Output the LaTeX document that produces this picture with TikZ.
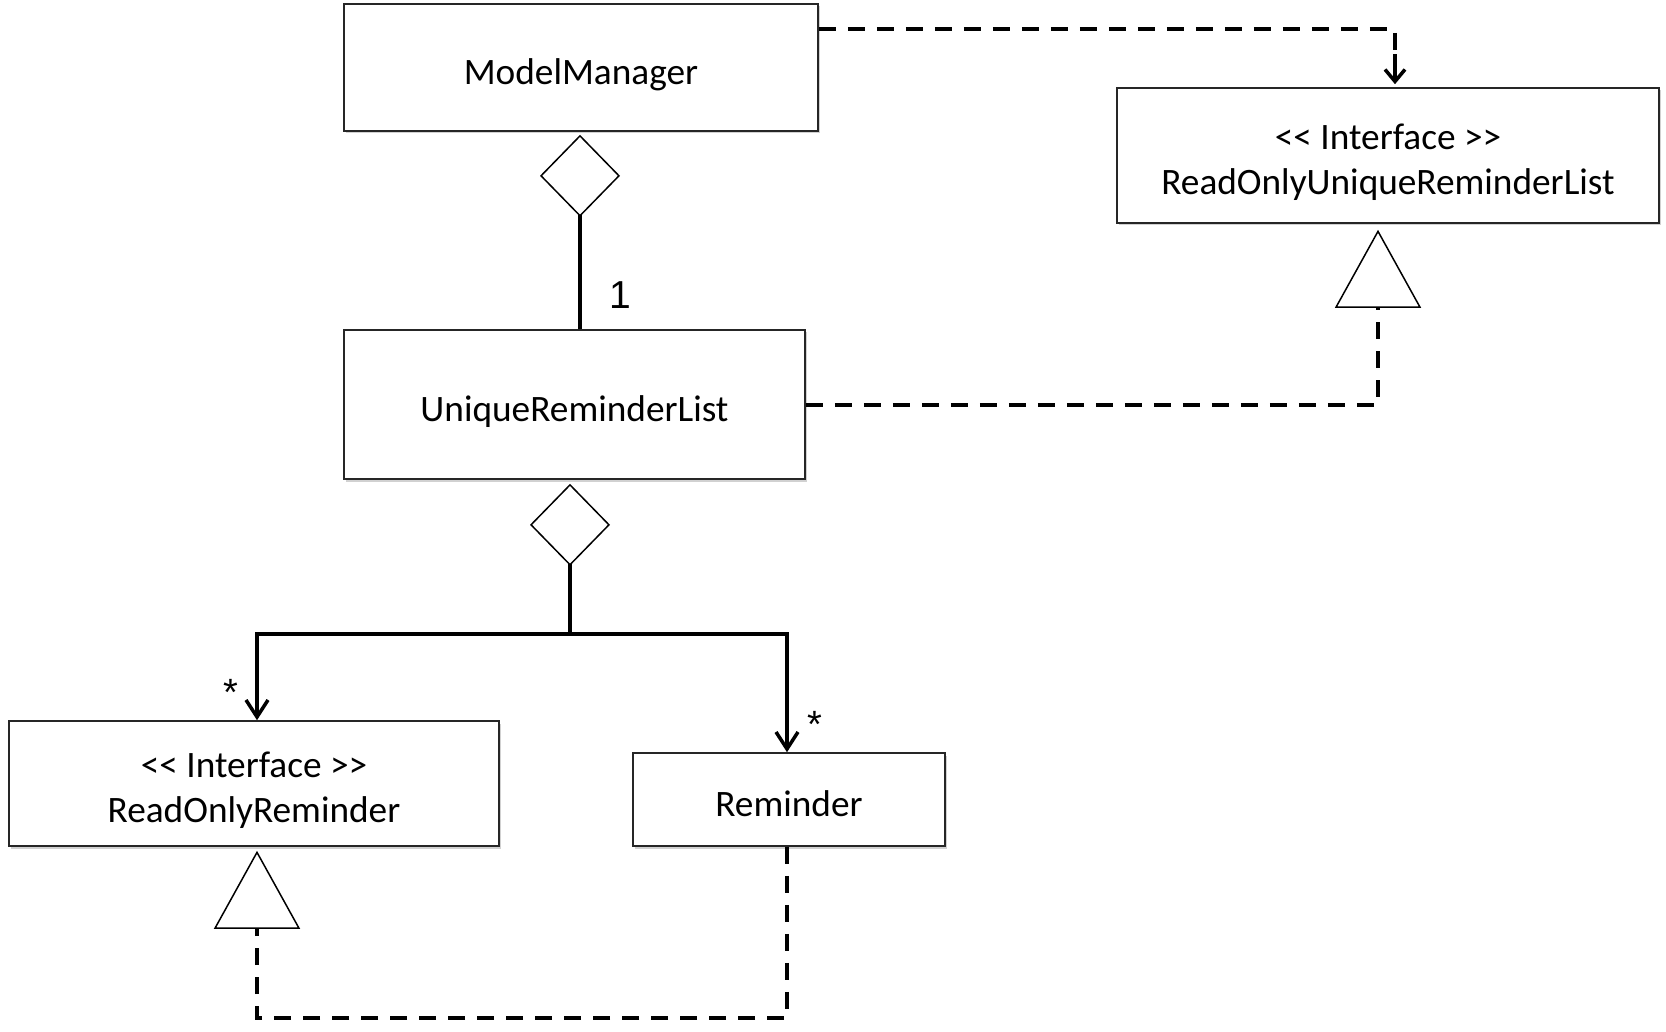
\documentclass[tikz,border=0pt]{standalone}
\usepackage{fontspec}
\setmainfont{Carlito}[Ligatures=TeXOff]
\newfontfamily\arialfont{Liberation Sans}
\usetikzlibrary{arrows.meta,shadows,calc}
\begin{document}
\begin{tikzpicture}[x=1pt,y=-1pt,
  umlbox/.style={draw=black!85, line width=1.6pt, fill=white, rectangle, inner sep=0pt,
    align=center, font=\fontsize{37.3}{44.6}\selectfont,
    text height=33.5pt, text depth=0pt,
    drop shadow={shadow xshift=1.5pt, shadow yshift=-2.5pt, fill=black!30, opacity=0.6}},
  twoline/.style={text height=77.5pt, text depth=0pt},
  solidline/.style={line width=4pt, line cap=butt, line join=miter},
  depline/.style={line width=4pt, dash pattern=on 17pt off 12pt},
  smallbarb/.style={-{Straight Barb[length=12pt,width=20pt,line width=3.5pt]}},
  hollowdiamond/.style={{Diamond[open,length=82pt,width=80pt,line width=1.5pt,fill=white]}-},
  hollowtri/.style={-{Triangle[open,length=78pt,width=86pt,line width=1.5pt,fill=white]}},
  mult/.style={font=\arialfont\fontsize{38}{38}\selectfont, inner sep=0pt},
]
\useasboundingbox (0,0) rectangle (1666,1032);

\node[umlbox, minimum width=474pt, minimum height=127pt] (mm) at (581,67.5) {ModelManager};
\node[umlbox, twoline, minimum width=542pt, minimum height=135pt] (rourl) at (1388,155.5) {<< Interface >>\\ReadOnlyUniqueReminderList};
\node[umlbox, minimum width=461pt, minimum height=149pt] (url) at (574.5,404.5) {UniqueReminderList};
\node[umlbox, twoline, minimum width=490pt, minimum height=125pt] (ror) at (254,783.5) {<< Interface >>\\ReadOnlyReminder};
\node[umlbox, minimum width=312pt, minimum height=93pt] (rem) at (789,799.5) {Reminder};

% ModelManager aggregates UniqueReminderList
\draw[solidline, hollowdiamond, shorten <=3pt] ($(mm.south)+(-1,0)$) -- ($(url.north)+(5.5,0)$);
\node[font=\arialfont\fontsize{39}{39}\selectfont, inner sep=0pt] (one) at (620,295) {1};

% ModelManager depends on ReadOnlyUniqueReminderList
\coordinate (mmdep) at ($(mm.north east)+(0,26)$);
\coordinate (rtop) at ($(rourl.north)+(7,-3)$);
\draw[depline] (mmdep) -| ($(rtop)+(0,-14)$);
\draw[line width=3.5pt, smallbarb] ($(rtop)+(0,-30)$) -- (rtop);

% UniqueReminderList realizes ReadOnlyUniqueReminderList
\draw[depline, hollowtri, shorten >=6pt] (url.east) -| ($(rourl.south)+(-10,0)$);

% UniqueReminderList aggregates the reminders
\coordinate (j) at (570,634);
\coordinate (jl) at (257,634);
\coordinate (jr) at (787,634);
\draw[solidline, hollowdiamond, shorten <=4pt] (url.south -| j) -- (j);
\draw[solidline, {Straight Barb[length=17pt,width=22pt,line width=3.5pt]}-{Straight Barb[length=17pt,width=22pt,line width=3.5pt]}]
  (ror.north -| jl) -- (jl) -- (jr) -- (rem.north -| jr);
\node[mult] (s1) at (231,692) {*};
\node[mult] (s2) at (815,724) {*};

% Reminder realizes ReadOnlyReminder
\coordinate (bot) at (787,1018);
\draw[depline, hollowtri, shorten >=4pt] (rem.south -| jr) -- (bot) -| (ror.south -| jl);
\end{tikzpicture}
\end{document}
